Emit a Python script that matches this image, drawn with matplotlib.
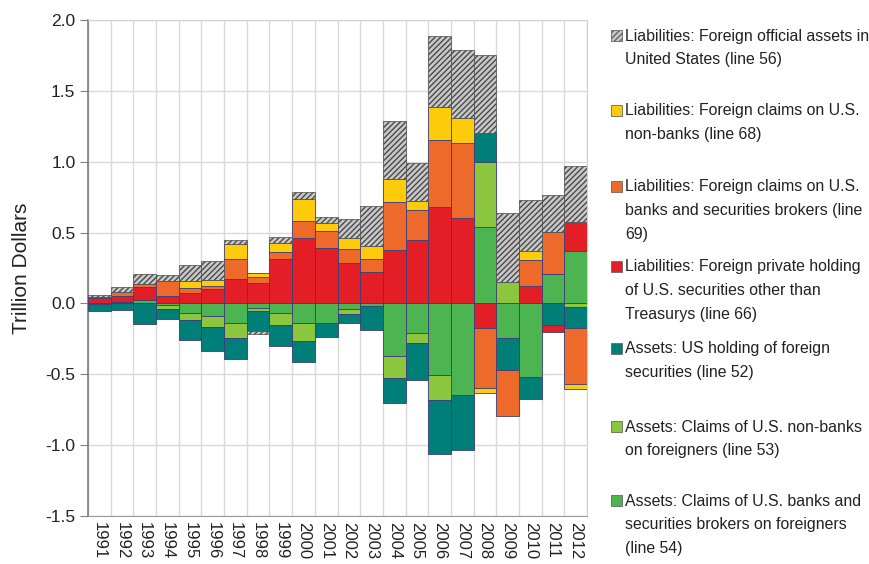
import numpy as np
import matplotlib
matplotlib.use("Agg")
import matplotlib.pyplot as plt
from matplotlib.patches import Rectangle

plt.rcParams['font.family'] = ['Liberation Sans', 'DejaVu Sans']

years = [str(y) for y in range(1991, 2013)]

# stacking order, bottom first (Excel series order)
banks_claims = [-0.005, 0.008, 0.025, -0.01, -0.07, -0.09, -0.137, -0.03, -0.07, -0.137, -0.14,
                -0.04, -0.015, -0.372, -0.212, -0.506, -0.648, 0.542, -0.247, -0.518, 0.207, 0.372]
nonbank_claims = [0, 0, 0, -0.03, -0.045, -0.078, -0.11, -0.026, -0.085, -0.125, 0,
                  -0.035, 0, -0.151, -0.066, -0.177, 0, 0.459, 0.15, 0, 0, -0.025]
us_securities = [-0.05, -0.045, -0.148, -0.073, -0.14, -0.166, -0.142, -0.137, -0.144, -0.15, -0.10,
                 -0.066, -0.17, -0.179, -0.264, -0.382, -0.384, 0.20, -0.224, -0.153, -0.153, -0.15]
private_holding = [0.035, 0.045, 0.09, 0.052, 0.075, 0.105, 0.17, 0.146, 0.31, 0.46, 0.39,
                   0.285, 0.224, 0.38, 0.448, 0.683, 0.601, -0.17, 0, 0.125, -0.047, 0.205]
claims_banks = [0.008, 0.025, 0.02, 0.106, 0.035, 0.015, 0.14, 0.04, 0.05, 0.12, 0.12,
                0.10, 0.092, 0.335, 0.212, 0.467, 0.53, -0.43, -0.323, 0.181, 0.30, -0.393]
claims_nonbanks = [0, 0, 0, 0, 0.05, 0.047, 0.108, 0.026, 0.065, 0.155, 0.06,
                   0.078, 0.087, 0.16, 0.064, 0.235, 0.176, -0.03, 0, 0.066, 0, -0.038]
official = [0.02, 0.04, 0.075, 0.042, 0.11, 0.13, 0.033, -0.024, 0.045, 0.05, 0.04,
            0.13, 0.285, 0.41, 0.27, 0.50, 0.483, 0.554, 0.488, 0.358, 0.26, 0.393]

series = [banks_claims, nonbank_claims, us_securities, private_holding,
          claims_banks, claims_nonbanks, official]
colors = ['#4cb450', '#8cc63e', '#007f78', '#e41e26', '#ee6a2a', '#fdcb0a', '#c8c8c8']

labels = [
    "Liabilities: Foreign official assets in\nUnited States (line 56)",
    "Liabilities: Foreign claims on U.S.\nnon-banks (line 68)",
    "Liabilities: Foreign claims on U.S.\nbanks and securities brokers (line\n69)",
    "Liabilities: Foreign private holding\nof U.S. securities other than\nTreasurys (line 66)",
    "Assets: US holding of foreign\nsecurities (line 52)",
    "Assets: Claims of U.S. non-banks\non foreigners (line 53)",
    "Assets: Claims of U.S. banks and\nsecurities brokers on foreigners\n(line 54)",
]
legend_colors = ['#c8c8c8', '#fdcb0a', '#ee6a2a', '#e41e26', '#007f78', '#8cc63e', '#4cb450']
legend_y = [36, 111, 187, 267, 349, 427, 501]

W, H = 869, 564
fig = plt.figure(figsize=(W / 100, H / 100), dpi=100)
ax = fig.add_axes([88 / W, 1 - 516 / H, (587 - 88) / W, (516 - 20) / H])

x = np.arange(len(years))
pos_bottom = np.zeros(len(years))
neg_bottom = np.zeros(len(years))
for i, (vals, c) in enumerate(zip(series, colors)):
    v = np.array(vals, dtype=float)
    bottom = np.where(v >= 0, pos_bottom, neg_bottom)
    if i == len(series) - 1:
        ax.bar(x, v, 1.0, bottom=bottom, color=c, edgecolor='#4a4a4a',
               linewidth=0.5, hatch='//////', zorder=3)
    else:
        ax.bar(x, v, 1.0, bottom=bottom, color=c, edgecolor='#3d3d7a',
               linewidth=0.6, zorder=3)
    pos_bottom += np.where(v > 0, v, 0)
    neg_bottom += np.where(v < 0, v, 0)

ax.set_xlim(-0.5, len(years) - 0.5)
ax.set_ylim(-1.5, 2.0)
ax.set_yticks(np.arange(-1.5, 2.01, 0.5))
ax.set_yticklabels(['%.1f' % t for t in np.arange(-1.5, 2.01, 0.5)])
ax.set_xticks(x)
ax.set_xticklabels(years, rotation=270, fontsize=12, color='#222222')
ax.set_xticks(np.arange(-0.5, len(years), 1.0), minor=True)
ax.tick_params(axis='x', which='major', length=0, pad=4)
ax.tick_params(axis='x', which='minor', length=0)
ax.tick_params(axis='y', length=6, color='#808080', labelsize=12.5, labelcolor='#222222', pad=3)
ax.grid(True, axis='y', color='#d9d9d9', linewidth=1, zorder=0)
ax.grid(True, axis='x', which='minor', color='#d9d9d9', linewidth=1, zorder=0)
for s in ['top', 'right']:
    ax.spines[s].set_color('#d0d0d0')
ax.spines['left'].set_color('#7a7a7a')
ax.spines['left'].set_linewidth(1.2)
ax.spines['bottom'].set_color('#9a9a9a')
ax.set_ylabel('Trillion Dollars', fontsize=15, color='#222222', labelpad=10)

# legend drawn by hand to match the uneven spacing
for lab, c, y0 in zip(labels, legend_colors, legend_y):
    hatch = '//////' if c == '#c8c8c8' else None
    fig.add_artist(Rectangle((611 / W, 1 - (y0 + 5) / H), 11 / W, 11 / H,
                             transform=fig.transFigure, facecolor=c,
                             edgecolor='#666666', linewidth=0.6, hatch=hatch))
    for k, line in enumerate(lab.split('\n')):
        fig.text(625 / W, 1 - (y0 + k * 23.5) / H, line, fontsize=11.4,
                 color='#222222', va='center', ha='left')

fig.savefig('out.png', dpi=100)
